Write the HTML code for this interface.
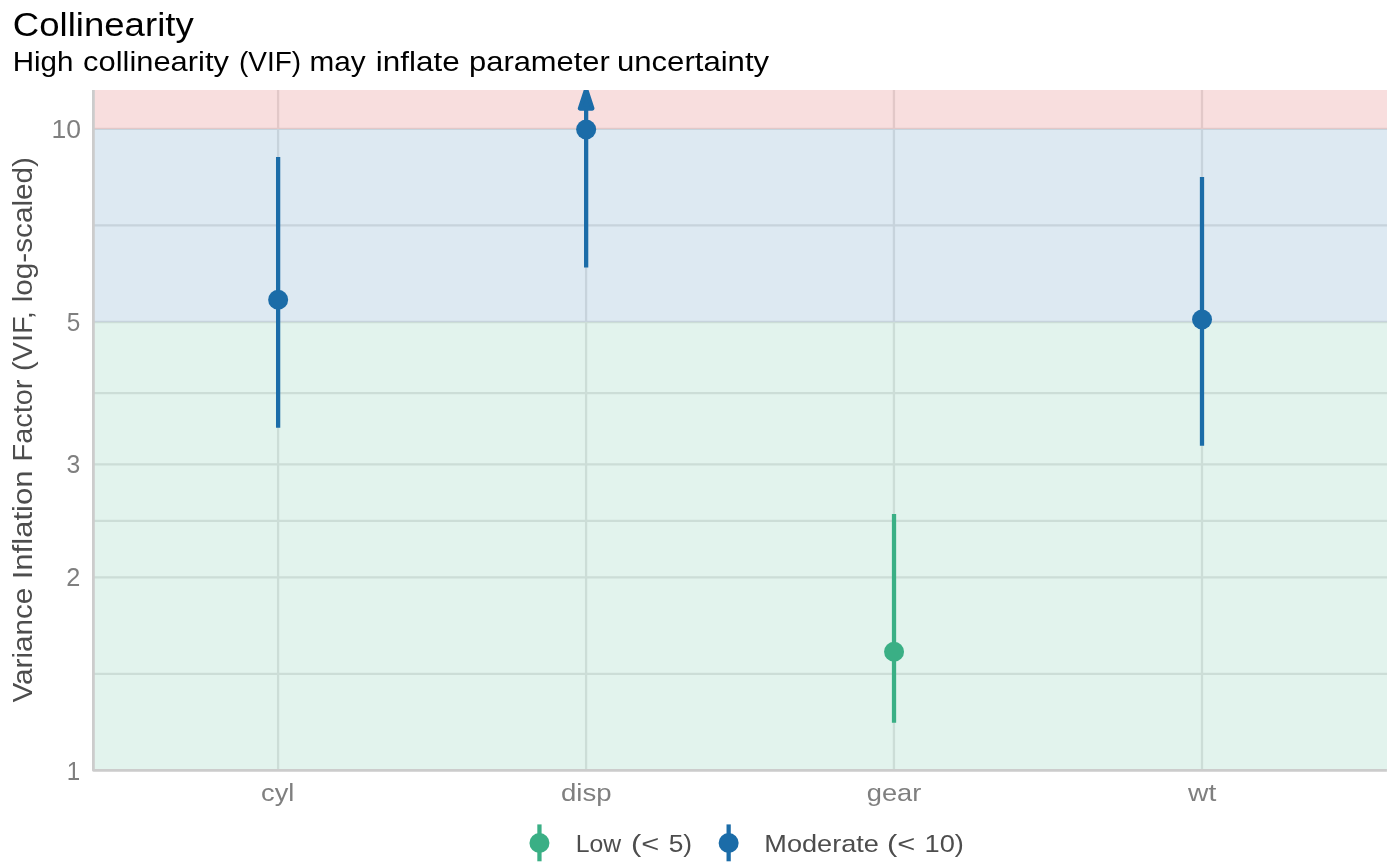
<!DOCTYPE html>
<html lang="en">
<head>
<meta charset="utf-8">
<title>Collinearity</title>
<style>
  html, body { margin: 0; padding: 0; background: #ffffff; }
  body { width: 1400px; height: 866px; overflow: hidden; }
  svg { display: block; will-change: transform; transform: translateZ(0); }
  text { font-family: "Liberation Sans", sans-serif; }
  .title { font-size: 33.2px; fill: #000000; }
  .subtitle { font-size: 27.5px; fill: #000000; }
  .ytitle { font-size: 27.5px; fill: #4d4d4d; }
  .tick { font-size: 25.4px; fill: #7f7f7f; }
  .xtick { font-size: 24.8px; fill: #7f7f7f; }
  .leg { font-size: 24.8px; fill: #4d4d4d; }
</style>
</head>
<body>
<svg width="1400" height="866" viewBox="0 0 1400 866">
  <defs>
    <clipPath id="panel"><rect x="93" y="90" width="1294" height="681"/></clipPath>
  </defs>
  <rect x="0" y="0" width="1400" height="866" fill="#ffffff"/>

  <!-- panel -->
  <g clip-path="url(#panel)">
    <!-- grid (drawn below the translucent zones) -->
    <g stroke="#e6e6e6" stroke-width="2.28" fill="none">
      <line x1="93" x2="1387" y1="128.8" y2="128.8"/>
      <line x1="93" x2="1387" y1="225.4" y2="225.4"/>
      <line x1="93" x2="1387" y1="322.0" y2="322.0"/>
      <line x1="93" x2="1387" y1="393.15" y2="393.15"/>
      <line x1="93" x2="1387" y1="464.3" y2="464.3"/>
      <line x1="93" x2="1387" y1="520.8" y2="520.8"/>
      <line x1="93" x2="1387" y1="577.3" y2="577.3"/>
      <line x1="93" x2="1387" y1="673.85" y2="673.85"/>
      <line x1="278.1" x2="278.1" y1="90" y2="771"/>
      <line x1="586.1" x2="586.1" y1="90" y2="771"/>
      <line x1="893.95" x2="893.95" y1="90" y2="771"/>
      <line x1="1202.0" x2="1202.0" y1="90" y2="771"/>
    </g>
    <!-- zones -->
    <rect x="93" y="322" width="1294" height="449" fill="#3aaf85" fill-opacity="0.15"/>
    <rect x="93" y="129" width="1294" height="193" fill="#1b6ca8" fill-opacity="0.15"/>
    <rect x="93" y="90" width="1294" height="39" fill="#cd201f" fill-opacity="0.15"/>

    <!-- line ranges -->
    <g fill="none" stroke-width="4.27" stroke-linecap="butt">
      <line x1="278.13" x2="278.13" y1="156.9" y2="427.8" stroke="#1b6ca8"/>
      <line x1="586.15" x2="586.15" y1="95" y2="267.55" stroke="#1b6ca8"/>
      <line x1="894.02" x2="894.02" y1="513.9" y2="722.85" stroke="#3aaf85"/>
      <line x1="1202" x2="1202" y1="176.9" y2="445.7" stroke="#1b6ca8"/>
    </g>
    <!-- arrow head -->
    <polygon points="586.15,89.4 579.95,108.5 592.35,108.5" fill="#1b6ca8" stroke="#1b6ca8" stroke-width="4.27" stroke-linejoin="round"/>
    <!-- points -->
    <circle cx="278.15" cy="299.8" r="10" fill="#1b6ca8"/>
    <circle cx="586.15" cy="129.5" r="10" fill="#1b6ca8"/>
    <circle cx="894.05" cy="651.8" r="10" fill="#3aaf85"/>
    <circle cx="1202.05" cy="319.5" r="10" fill="#1b6ca8"/>
  </g>

  <!-- axis lines -->
  <path d="M93.4,90 L93.4,770.35 L1386.9,770.35" fill="none" stroke="#cccccc" stroke-width="2.8" stroke-linejoin="round"/>

  <!-- legend keys -->
  <g>
    <line x1="539.45" x2="539.45" y1="824.4" y2="861.3" stroke="#3aaf85" stroke-width="4.27"/>
    <circle cx="539.45" cy="843" r="10" fill="#3aaf85"/>
    <line x1="728.65" x2="728.65" y1="824.4" y2="861.3" stroke="#1b6ca8" stroke-width="4.27"/>
    <circle cx="728.65" cy="843" r="10" fill="#1b6ca8"/>
  </g>

  <!-- text (each word placed individually to match the reference metrics) -->
  <text class="title" y="35.8"><tspan x="12.84" textLength="180.88" lengthAdjust="spacingAndGlyphs">Collinearity</tspan></text>
  <text class="subtitle" y="71.0"><tspan x="12.70" textLength="60.72" lengthAdjust="spacingAndGlyphs">High</tspan> <tspan x="83.09" textLength="145.83" lengthAdjust="spacingAndGlyphs">collinearity</tspan> <tspan x="238.97" textLength="62.12" lengthAdjust="spacingAndGlyphs">(VIF)</tspan> <tspan x="309.46" textLength="56.11" lengthAdjust="spacingAndGlyphs">may</tspan> <tspan x="375.77" textLength="83.86" lengthAdjust="spacingAndGlyphs">inflate</tspan> <tspan x="469.04" textLength="140.82" lengthAdjust="spacingAndGlyphs">parameter</tspan> <tspan x="616.96" textLength="152.15" lengthAdjust="spacingAndGlyphs">uncertainty</tspan></text>
  <text class="ytitle" y="0" transform="translate(31.9,702.7) rotate(-90)"><tspan x="0.08" textLength="114.98" lengthAdjust="spacingAndGlyphs">Variance</tspan> <tspan x="123.36" textLength="108.98" lengthAdjust="spacingAndGlyphs">Inflation</tspan> <tspan x="241.28" textLength="81.84" lengthAdjust="spacingAndGlyphs">Factor</tspan> <tspan x="331.58" textLength="59.85" lengthAdjust="spacingAndGlyphs">(VIF,</tspan> <tspan x="400.39" textLength="145.30" lengthAdjust="spacingAndGlyphs">log-scaled)</tspan></text>
  <text class="tick" y="138.0"><tspan x="51.57" textLength="29.53" lengthAdjust="spacingAndGlyphs">10</tspan></text>
  <text class="tick" y="330.9"><tspan x="66.80" textLength="13.53" lengthAdjust="spacingAndGlyphs">5</tspan></text>
  <text class="tick" y="473.0"><tspan x="66.60" textLength="13.76" lengthAdjust="spacingAndGlyphs">3</tspan></text>
  <text class="tick" y="586.0"><tspan x="66.30" textLength="14.07" lengthAdjust="spacingAndGlyphs">2</tspan></text>
  <text class="tick" y="780.0"><tspan x="66.81" textLength="13.45" lengthAdjust="spacingAndGlyphs">1</tspan></text>
  <text class="xtick" y="800.9"><tspan x="261.13" textLength="33.28" lengthAdjust="spacingAndGlyphs">cyl</tspan></text>
  <text class="xtick" y="800.9"><tspan x="560.95" textLength="50.62" lengthAdjust="spacingAndGlyphs">disp</tspan></text>
  <text class="xtick" y="800.9"><tspan x="866.74" textLength="54.55" lengthAdjust="spacingAndGlyphs">gear</tspan></text>
  <text class="xtick" y="800.9"><tspan x="1188.13" textLength="28.33" lengthAdjust="spacingAndGlyphs">wt</tspan></text>
  <text class="leg" y="851.5"><tspan x="575.73" textLength="45.37" lengthAdjust="spacingAndGlyphs">Low</tspan> <tspan x="631.04" textLength="28.30" lengthAdjust="spacingAndGlyphs">(&lt;</tspan> <tspan x="668.68" textLength="23.41" lengthAdjust="spacingAndGlyphs">5)</tspan></text>
  <text class="leg" y="851.5"><tspan x="764.33" textLength="114.54" lengthAdjust="spacingAndGlyphs">Moderate</tspan> <tspan x="886.92" textLength="28.30" lengthAdjust="spacingAndGlyphs">(&lt;</tspan> <tspan x="924.52" textLength="39.39" lengthAdjust="spacingAndGlyphs">10)</tspan></text>
</svg>
</body>
</html>
